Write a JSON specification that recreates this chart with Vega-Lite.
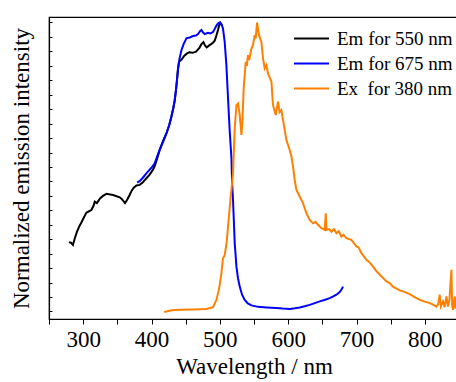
{
  "$schema": "https://vega.github.io/schema/vega-lite/v6.json",
  "width": 410,
  "height": 302,
  "autosize": "none",
  "padding": {"left": 49, "top": 17, "right": 0, "bottom": 63},
  "background": "white",
  "config": {
    "font": "Liberation Serif",
    "view": {"stroke": "black", "strokeWidth": 1.2},
    "axis": {"grid": false, "domainColor": "black", "domainWidth": 1.2, "tickColor": "black", "labelColor": "black", "titleColor": "black", "labelFont": "Liberation Serif", "titleFont": "Liberation Serif", "titleFontWeight": "normal"},
    "legend": {"labelFont": "Liberation Serif"}
  },
  "data": {"values": [
    {"s":"Em for 550 nm","x":279.3,"y":0.240},{"s":"Em for 550 nm","x":282,"y":0.238},{"s":"Em for 550 nm","x":285,"y":0.230},{"s":"Em for 550 nm","x":288,"y":0.255},{"s":"Em for 550 nm","x":291,"y":0.276},{"s":"Em for 550 nm","x":294,"y":0.293},{"s":"Em for 550 nm","x":297.4,"y":0.308},{"s":"Em for 550 nm","x":301,"y":0.325},{"s":"Em for 550 nm","x":304.7,"y":0.342},{"s":"Em for 550 nm","x":308,"y":0.346},{"s":"Em for 550 nm","x":312,"y":0.351},{"s":"Em for 550 nm","x":315,"y":0.365},{"s":"Em for 550 nm","x":317,"y":0.380},{"s":"Em for 550 nm","x":320,"y":0.375},{"s":"Em for 550 nm","x":322,"y":0.382},{"s":"Em for 550 nm","x":325,"y":0.392},{"s":"Em for 550 nm","x":329,"y":0.400},{"s":"Em for 550 nm","x":334,"y":0.407},{"s":"Em for 550 nm","x":343.7,"y":0.403},{"s":"Em for 550 nm","x":353.5,"y":0.395},{"s":"Em for 550 nm","x":357,"y":0.388},{"s":"Em for 550 nm","x":361.2,"y":0.375},{"s":"Em for 550 nm","x":364,"y":0.385},{"s":"Em for 550 nm","x":368,"y":0.403},{"s":"Em for 550 nm","x":371,"y":0.418},{"s":"Em for 550 nm","x":374,"y":0.428},{"s":"Em for 550 nm","x":378,"y":0.436},{"s":"Em for 550 nm","x":382.7,"y":0.438},{"s":"Em for 550 nm","x":387,"y":0.446},{"s":"Em for 550 nm","x":392.5,"y":0.461},{"s":"Em for 550 nm","x":397,"y":0.473},{"s":"Em for 550 nm","x":402,"y":0.490},{"s":"Em for 550 nm","x":405,"y":0.505},{"s":"Em for 550 nm","x":409,"y":0.535},{"s":"Em for 550 nm","x":412,"y":0.559},{"s":"Em for 550 nm","x":417,"y":0.590},{"s":"Em for 550 nm","x":421.8,"y":0.616},{"s":"Em for 550 nm","x":426,"y":0.645},{"s":"Em for 550 nm","x":429.1,"y":0.674},{"s":"Em for 550 nm","x":432,"y":0.705},{"s":"Em for 550 nm","x":434,"y":0.731},{"s":"Em for 550 nm","x":436,"y":0.770},{"s":"Em for 550 nm","x":437.3,"y":0.801},{"s":"Em for 550 nm","x":438.5,"y":0.835},{"s":"Em for 550 nm","x":440.2,"y":0.864},{"s":"Em for 550 nm","x":444,"y":0.872},{"s":"Em for 550 nm","x":448.1,"y":0.885},{"s":"Em for 550 nm","x":452,"y":0.893},{"s":"Em for 550 nm","x":455.4,"y":0.897},{"s":"Em for 550 nm","x":460,"y":0.895},{"s":"Em for 550 nm","x":465.2,"y":0.899},{"s":"Em for 550 nm","x":470.1,"y":0.912},{"s":"Em for 550 nm","x":473,"y":0.925},{"s":"Em for 550 nm","x":476,"y":0.932},{"s":"Em for 550 nm","x":478.5,"y":0.920},{"s":"Em for 550 nm","x":480.8,"y":0.914},{"s":"Em for 550 nm","x":484,"y":0.920},{"s":"Em for 550 nm","x":487.7,"y":0.926},{"s":"Em for 550 nm","x":490,"y":0.930},{"s":"Em for 550 nm","x":492.5,"y":0.937},{"s":"Em for 550 nm","x":495,"y":0.955},{"s":"Em for 550 nm","x":497.3,"y":0.974},{"s":"Em for 550 nm","x":499,"y":0.990},{"s":"Em for 550 nm","x":500.8,"y":0.999},{"s":"Em for 550 nm","x":503,"y":0.990},
    {"s":"Em for 675 nm","x":379,"y":0.446},{"s":"Em for 675 nm","x":383,"y":0.452},{"s":"Em for 675 nm","x":387,"y":0.462},{"s":"Em for 675 nm","x":392.5,"y":0.478},{"s":"Em for 675 nm","x":397,"y":0.490},{"s":"Em for 675 nm","x":401,"y":0.500},{"s":"Em for 675 nm","x":404.7,"y":0.513},{"s":"Em for 675 nm","x":408,"y":0.535},{"s":"Em for 675 nm","x":412,"y":0.559},{"s":"Em for 675 nm","x":417,"y":0.588},{"s":"Em for 675 nm","x":421.8,"y":0.616},{"s":"Em for 675 nm","x":426,"y":0.645},{"s":"Em for 675 nm","x":429.1,"y":0.674},{"s":"Em for 675 nm","x":432,"y":0.705},{"s":"Em for 675 nm","x":434,"y":0.731},{"s":"Em for 675 nm","x":436,"y":0.770},{"s":"Em for 675 nm","x":437.3,"y":0.801},{"s":"Em for 675 nm","x":439,"y":0.840},{"s":"Em for 675 nm","x":441,"y":0.875},{"s":"Em for 675 nm","x":443.8,"y":0.904},{"s":"Em for 675 nm","x":447,"y":0.925},{"s":"Em for 675 nm","x":451.1,"y":0.945},{"s":"Em for 675 nm","x":456,"y":0.948},{"s":"Em for 675 nm","x":460.8,"y":0.953},{"s":"Em for 675 nm","x":465,"y":0.955},{"s":"Em for 675 nm","x":468.1,"y":0.960},{"s":"Em for 675 nm","x":471,"y":0.970},{"s":"Em for 675 nm","x":473,"y":0.974},{"s":"Em for 675 nm","x":475.5,"y":0.965},{"s":"Em for 675 nm","x":478,"y":0.960},{"s":"Em for 675 nm","x":480,"y":0.962},{"s":"Em for 675 nm","x":482.7,"y":0.964},{"s":"Em for 675 nm","x":486,"y":0.962},{"s":"Em for 675 nm","x":490,"y":0.967},{"s":"Em for 675 nm","x":492.5,"y":0.978},{"s":"Em for 675 nm","x":495,"y":0.989},{"s":"Em for 675 nm","x":498,"y":0.998},{"s":"Em for 675 nm","x":500,"y":1.0},{"s":"Em for 675 nm","x":502.5,"y":0.994},{"s":"Em for 675 nm","x":504.6,"y":0.979},{"s":"Em for 675 nm","x":507.1,"y":0.933},{"s":"Em for 675 nm","x":509.6,"y":0.852},{"s":"Em for 675 nm","x":512,"y":0.737},{"s":"Em for 675 nm","x":514.5,"y":0.622},{"s":"Em for 675 nm","x":517,"y":0.530},{"s":"Em for 675 nm","x":517.8,"y":0.455},{"s":"Em for 675 nm","x":519.3,"y":0.386},{"s":"Em for 675 nm","x":521.8,"y":0.236},{"s":"Em for 675 nm","x":524.3,"y":0.155},{"s":"Em for 675 nm","x":526.6,"y":0.115},{"s":"Em for 675 nm","x":529.1,"y":0.086},{"s":"Em for 675 nm","x":532.5,"y":0.058},{"s":"Em for 675 nm","x":536.4,"y":0.040},{"s":"Em for 675 nm","x":541,"y":0.028},{"s":"Em for 675 nm","x":546.2,"y":0.021},{"s":"Em for 675 nm","x":556,"y":0.016},{"s":"Em for 675 nm","x":568.2,"y":0.014},{"s":"Em for 675 nm","x":582.8,"y":0.012},{"s":"Em for 675 nm","x":592,"y":0.010},{"s":"Em for 675 nm","x":602.3,"y":0.009},{"s":"Em for 675 nm","x":610,"y":0.011},{"s":"Em for 675 nm","x":616.9,"y":0.014},{"s":"Em for 675 nm","x":624,"y":0.018},{"s":"Em for 675 nm","x":631.5,"y":0.023},{"s":"Em for 675 nm","x":639,"y":0.029},{"s":"Em for 675 nm","x":646.2,"y":0.035},{"s":"Em for 675 nm","x":653,"y":0.040},{"s":"Em for 675 nm","x":660.8,"y":0.046},{"s":"Em for 675 nm","x":666,"y":0.052},{"s":"Em for 675 nm","x":670.6,"y":0.058},{"s":"Em for 675 nm","x":675,"y":0.066},{"s":"Em for 675 nm","x":677.9,"y":0.075},{"s":"Em for 675 nm","x":680.3,"y":0.086},
    {"s":"Ex\u00a0 for 380 nm","x":418.6,"y":-0.002},{"s":"Ex\u00a0 for 380 nm","x":430,"y":0.004},{"s":"Ex\u00a0 for 380 nm","x":441,"y":0.006},{"s":"Ex\u00a0 for 380 nm","x":460,"y":0.007},{"s":"Ex\u00a0 for 380 nm","x":480.4,"y":0.009},{"s":"Ex\u00a0 for 380 nm","x":490,"y":0.015},{"s":"Ex\u00a0 for 380 nm","x":495,"y":0.040},{"s":"Ex\u00a0 for 380 nm","x":499,"y":0.080},{"s":"Ex\u00a0 for 380 nm","x":502.3,"y":0.133},{"s":"Ex\u00a0 for 380 nm","x":504.6,"y":0.184},{"s":"Ex\u00a0 for 380 nm","x":507.1,"y":0.195},{"s":"Ex\u00a0 for 380 nm","x":510,"y":0.240},{"s":"Ex\u00a0 for 380 nm","x":512,"y":0.294},{"s":"Ex\u00a0 for 380 nm","x":515.5,"y":0.386},{"s":"Ex\u00a0 for 380 nm","x":519.3,"y":0.478},{"s":"Ex\u00a0 for 380 nm","x":521.8,"y":0.634},{"s":"Ex\u00a0 for 380 nm","x":524.3,"y":0.714},{"s":"Ex\u00a0 for 380 nm","x":526.6,"y":0.720},{"s":"Ex\u00a0 for 380 nm","x":529.1,"y":0.680},{"s":"Ex\u00a0 for 380 nm","x":531.6,"y":0.611},{"s":"Ex\u00a0 for 380 nm","x":533,"y":0.657},{"s":"Ex\u00a0 for 380 nm","x":534.9,"y":0.772},{"s":"Ex\u00a0 for 380 nm","x":537.9,"y":0.864},{"s":"Ex\u00a0 for 380 nm","x":539.5,"y":0.850},{"s":"Ex\u00a0 for 380 nm","x":541.2,"y":0.887},{"s":"Ex\u00a0 for 380 nm","x":543,"y":0.870},{"s":"Ex\u00a0 for 380 nm","x":546.2,"y":0.910},{"s":"Ex\u00a0 for 380 nm","x":548.6,"y":0.922},{"s":"Ex\u00a0 for 380 nm","x":551,"y":0.956},{"s":"Ex\u00a0 for 380 nm","x":552.5,"y":0.945},{"s":"Ex\u00a0 for 380 nm","x":554.4,"y":1.0},{"s":"Ex\u00a0 for 380 nm","x":557.3,"y":0.956},{"s":"Ex\u00a0 for 380 nm","x":560.8,"y":0.933},{"s":"Ex\u00a0 for 380 nm","x":563.2,"y":0.876},{"s":"Ex\u00a0 for 380 nm","x":565.7,"y":0.841},{"s":"Ex\u00a0 for 380 nm","x":568.2,"y":0.852},{"s":"Ex\u00a0 for 380 nm","x":570.5,"y":0.824},{"s":"Ex\u00a0 for 380 nm","x":575.5,"y":0.795},{"s":"Ex\u00a0 for 380 nm","x":577.8,"y":0.714},{"s":"Ex\u00a0 for 380 nm","x":581.8,"y":0.680},{"s":"Ex\u00a0 for 380 nm","x":585.1,"y":0.726},{"s":"Ex\u00a0 for 380 nm","x":587.5,"y":0.690},{"s":"Ex\u00a0 for 380 nm","x":590,"y":0.697},{"s":"Ex\u00a0 for 380 nm","x":592.5,"y":0.662},{"s":"Ex\u00a0 for 380 nm","x":597.4,"y":0.593},{"s":"Ex\u00a0 for 380 nm","x":602.3,"y":0.559},{"s":"Ex\u00a0 for 380 nm","x":604.5,"y":0.540},{"s":"Ex\u00a0 for 380 nm","x":607.1,"y":0.501},{"s":"Ex\u00a0 for 380 nm","x":609.6,"y":0.455},{"s":"Ex\u00a0 for 380 nm","x":612.1,"y":0.421},{"s":"Ex\u00a0 for 380 nm","x":617,"y":0.397},{"s":"Ex\u00a0 for 380 nm","x":621.7,"y":0.375},{"s":"Ex\u00a0 for 380 nm","x":626.7,"y":0.340},{"s":"Ex\u00a0 for 380 nm","x":631.5,"y":0.317},{"s":"Ex\u00a0 for 380 nm","x":636.4,"y":0.305},{"s":"Ex\u00a0 for 380 nm","x":640,"y":0.310},{"s":"Ex\u00a0 for 380 nm","x":643.7,"y":0.300},{"s":"Ex\u00a0 for 380 nm","x":648.6,"y":0.288},{"s":"Ex\u00a0 for 380 nm","x":653.5,"y":0.282},{"s":"Ex\u00a0 for 380 nm","x":655,"y":0.340},{"s":"Ex\u00a0 for 380 nm","x":656,"y":0.282},{"s":"Ex\u00a0 for 380 nm","x":660,"y":0.285},{"s":"Ex\u00a0 for 380 nm","x":663.3,"y":0.276},{"s":"Ex\u00a0 for 380 nm","x":667,"y":0.285},{"s":"Ex\u00a0 for 380 nm","x":670.6,"y":0.271},{"s":"Ex\u00a0 for 380 nm","x":674,"y":0.278},{"s":"Ex\u00a0 for 380 nm","x":677.9,"y":0.259},{"s":"Ex\u00a0 for 380 nm","x":681,"y":0.265},{"s":"Ex\u00a0 for 380 nm","x":685.2,"y":0.254},{"s":"Ex\u00a0 for 380 nm","x":692.5,"y":0.248},{"s":"Ex\u00a0 for 380 nm","x":699.9,"y":0.225},{"s":"Ex\u00a0 for 380 nm","x":703,"y":0.222},{"s":"Ex\u00a0 for 380 nm","x":707.2,"y":0.202},{"s":"Ex\u00a0 for 380 nm","x":714.5,"y":0.179},{"s":"Ex\u00a0 for 380 nm","x":719,"y":0.170},{"s":"Ex\u00a0 for 380 nm","x":724.3,"y":0.155},{"s":"Ex\u00a0 for 380 nm","x":729,"y":0.140},{"s":"Ex\u00a0 for 380 nm","x":734.1,"y":0.127},{"s":"Ex\u00a0 for 380 nm","x":738,"y":0.118},{"s":"Ex\u00a0 for 380 nm","x":743.8,"y":0.104},{"s":"Ex\u00a0 for 380 nm","x":748.6,"y":0.098},{"s":"Ex\u00a0 for 380 nm","x":753.4,"y":0.086},{"s":"Ex\u00a0 for 380 nm","x":758,"y":0.080},{"s":"Ex\u00a0 for 380 nm","x":763.3,"y":0.073},{"s":"Ex\u00a0 for 380 nm","x":770,"y":0.068},{"s":"Ex\u00a0 for 380 nm","x":777.9,"y":0.060},{"s":"Ex\u00a0 for 380 nm","x":785,"y":0.050},{"s":"Ex\u00a0 for 380 nm","x":792.6,"y":0.040},{"s":"Ex\u00a0 for 380 nm","x":800,"y":0.034},{"s":"Ex\u00a0 for 380 nm","x":807.2,"y":0.029},{"s":"Ex\u00a0 for 380 nm","x":812,"y":0.024},{"s":"Ex\u00a0 for 380 nm","x":817,"y":0.017},{"s":"Ex\u00a0 for 380 nm","x":819.5,"y":0.025},{"s":"Ex\u00a0 for 380 nm","x":821.8,"y":0.058},{"s":"Ex\u00a0 for 380 nm","x":823.5,"y":0.018},{"s":"Ex\u00a0 for 380 nm","x":826.6,"y":0.035},{"s":"Ex\u00a0 for 380 nm","x":829,"y":0.015},{"s":"Ex\u00a0 for 380 nm","x":831.6,"y":0.052},{"s":"Ex\u00a0 for 380 nm","x":833.9,"y":0.017},{"s":"Ex\u00a0 for 380 nm","x":836,"y":0.040},{"s":"Ex\u00a0 for 380 nm","x":838.9,"y":0.144},{"s":"Ex\u00a0 for 380 nm","x":840,"y":0.020},{"s":"Ex\u00a0 for 380 nm","x":841.3,"y":0.006},{"s":"Ex\u00a0 for 380 nm","x":843.8,"y":0.052},{"s":"Ex\u00a0 for 380 nm","x":845,"y":0.010}
  ]},
  "mark": {"type": "line", "strokeWidth": 2, "clip": true},
  "encoding": {
    "x": {"field": "x", "type": "quantitative",
      "scale": {"domain": [250, 850], "nice": false, "zero": false},
      "axis": {"title": "Wavelength / nm", "values": [250,300,350,400,450,500,550,600,650,700,750,800,850],
        "labelExpr": "datum.value % 100 == 0 ? datum.label : ''", "labelFontSize": 23, "titleFontSize": 23,
        "tickSize": 5, "labelPadding": 4, "titlePadding": 4, "labelFlush": false, "labelOverlap": false}},
    "y": {"field": "y", "type": "quantitative",
      "scale": {"domain": [-0.026, 1.019], "nice": false, "zero": false},
      "axis": {"title": "Normalized emission intensity", "values": [0,0.05,0.1,0.15,0.2,0.25,0.3,0.35,0.4,0.45,0.5,0.55,0.6,0.65,0.7,0.75,0.8,0.85,0.9,0.95,1.0],
        "labels": false, "tickSize": -3, "titleFontSize": 23, "titlePadding": 15}},
    "color": {"field": "s", "type": "nominal",
      "scale": {"domain": ["Em for 550 nm", "Em for 675 nm", "Ex\u00a0 for 380 nm"], "range": ["#000000", "#0000ff", "#ff8000"]},
      "legend": {"title": null, "orient": "none", "legendX": 253, "legendY": 12, "symbolType": "M-3.5,0H3.5", "symbolSize": 100, "symbolStrokeWidth": 2, "labelOffset": 16, "labelFont": "Liberation Serif", "labelFontSize": 19, "labelColor": "black", "rowPadding": 5, "padding": 0}}
  }
}
